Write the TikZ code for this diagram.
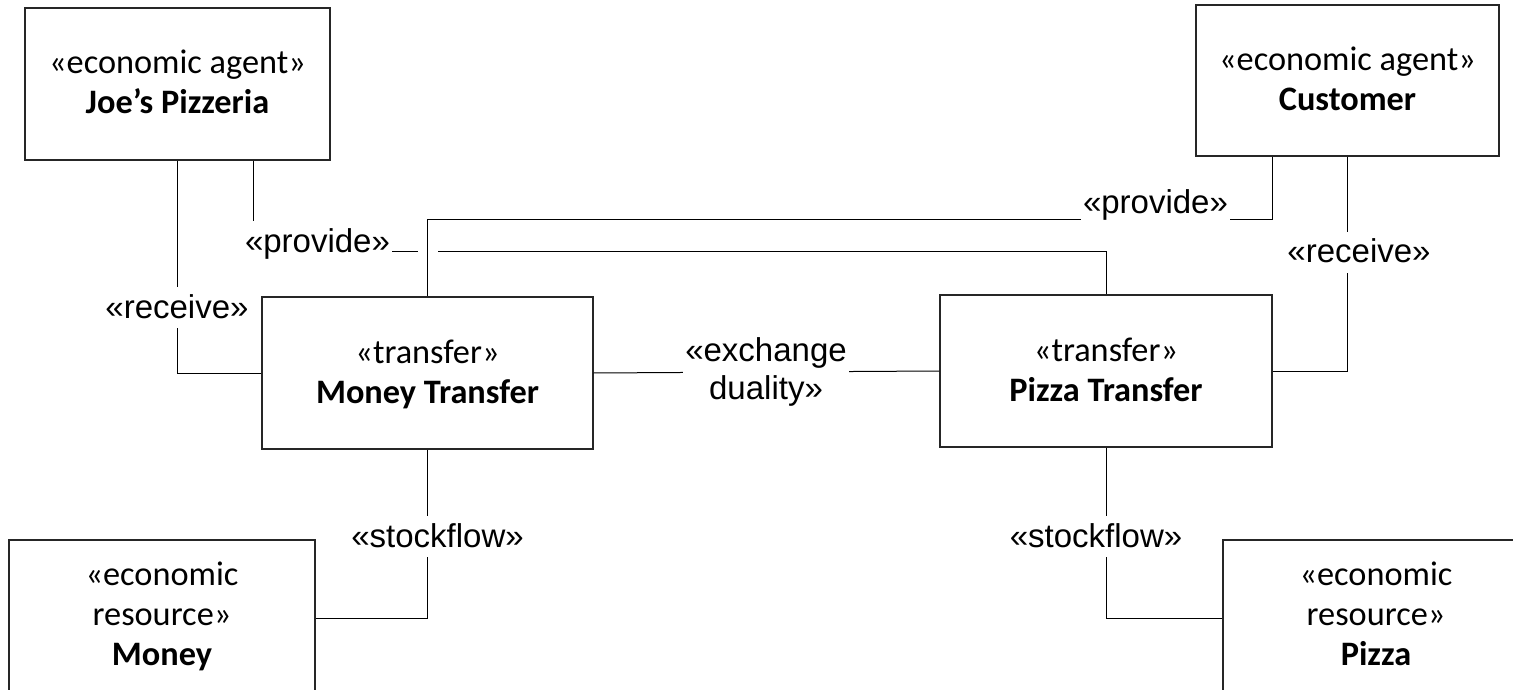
\documentclass[tikz,border=0pt]{standalone}
\usepackage{fontspec}
\setmainfont{Carlito}
\newfontfamily\labelfont{Liberation Sans}
% struts that fix the baselines inside the boxes
\newcommand\twostrut{\rule[-10pt]{0pt}{40pt}}
\newcommand\threestrut{\rule[-10pt]{0pt}{34pt}}
\tikzset{
  box/.style={draw=black!85, line width=1.1pt, align=center, inner sep=0pt,
              font=\fontsize{34.3}{40}\selectfont},
  conn/.style={draw=black, line width=1pt},
  lbl/.style={fill=white, inner sep=2pt, text height=29pt, text depth=8pt,
              font=\labelfont\fontsize{33}{38}\selectfont},
  lbltwo/.style={fill=white, inner sep=2pt, align=center,
              font=\labelfont\fontsize{33}{38}\selectfont},
}
\begin{document}
\begin{tikzpicture}[x=1pt,y=-1pt]
\useasboundingbox (0,0) rectangle (1513,690);
\clip (0,0) rectangle (1513,690);

% agents
\node[box, minimum width=305pt, minimum height=152pt] (joe) at (177.5,84)
  {\twostrut«economic agent»\\\textbf{Joe’s Pizzeria}\twostrut};
\node[box, minimum width=303pt, minimum height=151pt] (cust) at (1347.5,80.5)
  {\twostrut«economic agent»\\\textbf{Customer}\twostrut};

% transfers
\node[box, minimum width=331pt, minimum height=152pt] (mt) at (427.5,373)
  {\twostrut«transfer»\\\textbf{Money Transfer}\twostrut};
\node[box, minimum width=332pt, minimum height=152pt] (pt) at (1106,371)
  {\twostrut«transfer»\\\textbf{Pizza Transfer}\twostrut};

% resources
\node[box, minimum width=306pt, minimum height=156pt] (money) at (162,618)
  {\threestrut«economic\\resource»\\\textbf{Money}\threestrut};
\node[box, minimum width=306pt, minimum height=156pt] (pizza) at (1376,618)
  {\threestrut«economic\\resource»\\\textbf{Pizza}\threestrut};

% bend points of the provide connectors
\coordinate (jp) at (253,251);
\coordinate (cp) at (1272,219);
\coordinate (jump) at (mt.north |- jp);

% connectors
\draw[conn] (joe.south) |- (mt.west);
\draw[conn] (joe.south -| jp) -- (jp) -| (pt.north);
\draw[white, line width=4pt] ([xshift=-10pt]jump) -- ([xshift=10pt]jump);
\draw[conn] (cust.south -| cp) -- (cp) -| (mt.north);
\draw[conn] (cust.south) |- (pt.east);
\draw[conn] (mt.east) -- (pt.west);
\draw[conn] (mt.south) |- (money.east);
\draw[conn] (pt.south) |- (pizza.west);

% connector labels
\node[lbl] (lprovJ) at (317.5,241.5) {«provide»};
\node[lbl] (lrecvJ) at (177,307.5) {«receive»};
\node[lbl] (lprovC) at (1155.5,202.5) {«provide»};
\node[lbl] (lrecvC) at (1359,252) {«receive»};
\node[lbl] (lstkM) at (437.5,536.5) {«stockflow»};
\node[lbl] (lstkP) at (1096,536.5) {«stockflow»};
\node[lbltwo] (lexch) at (766,372) {«exchange\\duality»};
\end{tikzpicture}
\end{document}
